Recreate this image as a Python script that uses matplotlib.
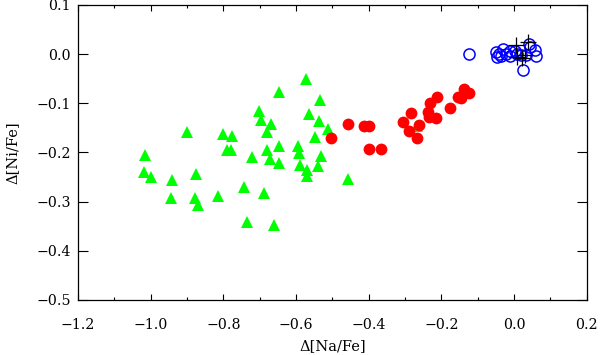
import matplotlib
matplotlib.use('Agg')
import matplotlib.pyplot as plt
from matplotlib.ticker import MultipleLocator

plt.rcParams['font.family'] = ['DejaVu Serif']
plt.rcParams['mathtext.fontset'] = 'dejavuserif'

# green triangles
tri_x = [-0.647, -0.701, -0.697, -0.669, -0.681, -0.901, -0.802, -0.776, -0.791, -0.780,
         -0.646, -0.679, -0.721, -0.672, -0.646, -1.017, -1.018, -1.000, -0.874, -0.940,
         -0.943, -0.879, -0.869, -0.814, -0.742, -0.687, -0.734, -0.661, -0.573, -0.533,
         -0.564, -0.536, -0.512, -0.548, -0.594, -0.591, -0.530, -0.589, -0.569, -0.539,
         -0.569, -0.457, -0.268]
tri_y = [-0.078, -0.115, -0.134, -0.143, -0.159, -0.158, -0.163, -0.167, -0.195, -0.194,
         -0.187, -0.195, -0.209, -0.214, -0.221, -0.205, -0.240, -0.250, -0.243, -0.256,
         -0.293, -0.293, -0.307, -0.288, -0.270, -0.282, -0.342, -0.348, -0.051, -0.093,
         -0.122, -0.137, -0.152, -0.168, -0.187, -0.201, -0.207, -0.226, -0.236, -0.228,
         -0.247, -0.254, -0.146]

# red filled circles
red_x = [-0.457, -0.413, -0.400, -0.504, -0.400, -0.367, -0.305, -0.283, -0.289, -0.268,
         -0.261, -0.232, -0.211, -0.236, -0.234, -0.215, -0.177, -0.155, -0.145, -0.138,
         -0.124]
red_y = [-0.142, -0.147, -0.147, -0.171, -0.193, -0.192, -0.138, -0.119, -0.157, -0.170,
         -0.144, -0.099, -0.087, -0.117, -0.128, -0.129, -0.110, -0.087, -0.090, -0.070,
         -0.079]

# blue open circles
blue_x = [-0.125, -0.049, -0.047, -0.030, -0.035, -0.021, -0.012, -0.010, 0.002, 0.008,
          0.041, 0.045, 0.057, 0.060, 0.025, 0.034, 0.020, -0.041]
blue_y = [0.000, 0.005, -0.005, 0.010, -0.004, 0.001, 0.007, -0.004, 0.007, 0.001,
          0.020, 0.014, 0.008, -0.003, -0.033, -0.002, -0.001, 0.001]

# black crosses
plus_x = [0.005, 0.007, 0.038, 0.029, 0.021]
plus_y = [0.018, -0.006, 0.024, -0.002, -0.008]

fig = plt.figure(figsize=(6, 3.55), dpi=100)
ax = fig.add_axes([0.13, 0.155, 0.848, 0.831])

ax.plot(tri_x, tri_y, '^', color='#00ff00', markersize=8, markeredgewidth=0, linestyle='none')
ax.plot(red_x, red_y, 'o', color='red', markersize=8.5, markeredgewidth=0, linestyle='none')
ax.plot(blue_x, blue_y, 'o', markerfacecolor='none', markeredgecolor='blue',
        markersize=8, markeredgewidth=1.1, linestyle='none')
ax.plot(plus_x, plus_y, '+', color='black', markersize=12, markeredgewidth=0.9, linestyle='none')

ax.set_xlim(-1.2, 0.2)
ax.set_ylim(-0.5, 0.1)
ax.xaxis.set_major_locator(MultipleLocator(0.2))
ax.xaxis.set_minor_locator(MultipleLocator(0.1))
ax.yaxis.set_major_locator(MultipleLocator(0.1))

ax.tick_params(axis='x', which='major', direction='in', top=True, length=4.5, width=0.8,
               labelsize=10.2, pad=13)
ax.tick_params(axis='x', which='minor', direction='in', top=True, length=2.5, width=0.8)
ax.tick_params(axis='y', which='major', direction='in', right=True, length=7, width=0.8,
               labelsize=10.2, pad=5)

ax.set_xticklabels([f'{v:.1f}'.replace('-', '\u2212') for v in ax.get_xticks()])
ax.set_yticklabels([f'{v:.1f}'.replace('-', '\u2212') for v in ax.get_yticks()])

for s in ax.spines.values():
    s.set_linewidth(0.9)

ax.set_xlabel('\u0394[Na/Fe]', fontsize=10.5, labelpad=5)
ax.set_ylabel('\u0394[Ni/Fe]', fontsize=10.5, labelpad=12)

plt.savefig('out.png', dpi=100)
